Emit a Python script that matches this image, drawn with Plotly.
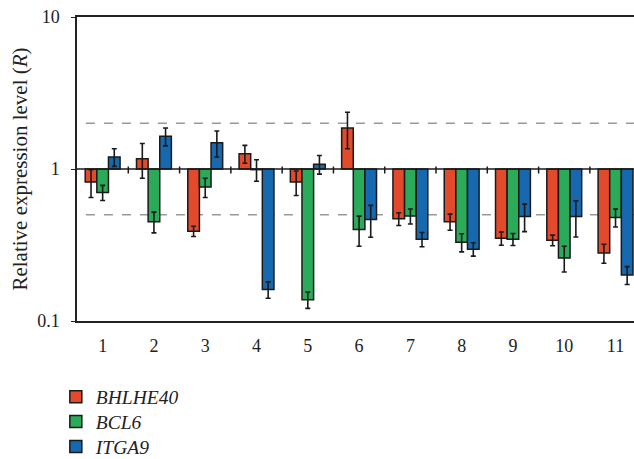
import plotly.graph_objects as go

groups = ["1", "2", "3", "4", "5", "6", "7", "8", "9", "10", "11"]
series_names = ["BHLHE40", "BCL6", "ITGA9"]
bhlhe40 = [0.82, 1.17, 0.39, 1.26, 0.82, 1.86, 0.47, 0.45, 0.35, 0.34, 0.28]
bhlhe40_err = [0.17, 0.30, 0.03, 0.17, 0.15, 0.50, 0.045, 0.055, 0.035, 0.027, 0.04]
bcl6 = [0.70, 0.45, 0.76, 0.99, 0.138, 0.40, 0.49, 0.33, 0.345, 0.26, 0.48]
bcl6_err = [0.08, 0.07, 0.11, 0.16, 0.017, 0.09, 0.055, 0.045, 0.031, 0.05, 0.065]
itga9 = [1.20, 1.64, 1.49, 0.161, 1.076, 0.466, 0.345, 0.297, 0.487, 0.487, 0.201]
itga9_err = [0.16, 0.22, 0.29, 0.02, 0.15, 0.11, 0.037, 0.03, 0.10, 0.13, 0.027]
colors = ["#E34A2C", "#2BAA5A", "#1769AF"]
ref_levels = [2.0, 0.5]

legend_ids = ["legend", "legend2", "legend3"]
legend_y = [-0.25, -0.332, -0.414]

xpos = list(range(len(groups)))
fig = go.Figure()
for i, (name, vals, errs) in enumerate(zip(series_names, [bhlhe40, bcl6, itga9],
                                            [bhlhe40_err, bcl6_err, itga9_err])):
    fig.add_trace(go.Bar(
        x=xpos, y=[v - 1 for v in vals], base=1, name=name, legend=legend_ids[i],
        marker=dict(color=colors[i], line=dict(color="#1a1a1a", width=1.5)),
        error_y=dict(type="data", array=errs, color="#1a1a1a", thickness=1.6, width=2.5),
    ))

# small separator ticks on the baseline
fig.add_trace(go.Scatter(
    x=[k + 0.5 for k in xpos[:-1]], y=[0.985] * (len(xpos) - 1), mode="markers",
    marker=dict(symbol="line-ns", size=5, line=dict(color="#1a1a1a", width=1.5)),
    showlegend=False, hoverinfo="skip"))

for lv in ref_levels:
    fig.add_shape(type="line", xref="paper", yref="y", x0=0.016, x1=1, y0=lv, y1=lv,
                  line=dict(color="#999999", width=1.3, dash="dash"), layer="below")
fig.add_shape(type="line", xref="paper", yref="y", x0=0, x1=1, y0=1, y1=1,
              line=dict(color="#1a1a1a", width=1.5))

serif = "Liberation Serif"
legend_style = dict(x=-0.038, xanchor="left", yanchor="middle",
                    font=dict(family=serif, size=19.5, style="italic", color="#222222"),
                    bgcolor="rgba(0,0,0,0)")
fig.update_layout(
    width=634, height=459,
    margin=dict(l=77, r=0, t=17, b=138, autoexpand=False),
    plot_bgcolor="white", paper_bgcolor="white",
    barmode="group", bargap=0.32, bargroupgap=0,
    font=dict(family=serif, size=18, color="#222222"),
    showlegend=True,
    legend=dict(y=legend_y[0], **legend_style),
    legend2=dict(y=legend_y[1], **legend_style),
    legend3=dict(y=legend_y[2], **legend_style),
)
fig.update_xaxes(
    range=[-0.5, 10.36], tickvals=xpos, ticktext=groups, automargin=False,
    showline=True, linecolor="#222222", linewidth=1.5, mirror=True,
    showgrid=False, zeroline=False, ticks="", ticklabelstandoff=8,
    tickfont=dict(size=18),
)
fig.update_yaxes(
    type="log", range=[-1, 1], tickvals=[0.1, 1, 10], ticktext=["0.1", "1", "10"],
    automargin=False,
    showline=True, linecolor="#222222", linewidth=1.5,
    showgrid=False, zeroline=False, ticks="outside", ticklen=4, tickwidth=1.3,
    tickcolor="#222222", ticklabelstandoff=8,
    tickfont=dict(size=18),
    title=dict(text="Relative expression level (<i>R</i>)", font=dict(size=21), standoff=4),
)
fig.write_html("out.html", config={"displayModeBar": False},
               post_script="document.body.style.margin='0px';document.body.style.overflow='hidden';")
